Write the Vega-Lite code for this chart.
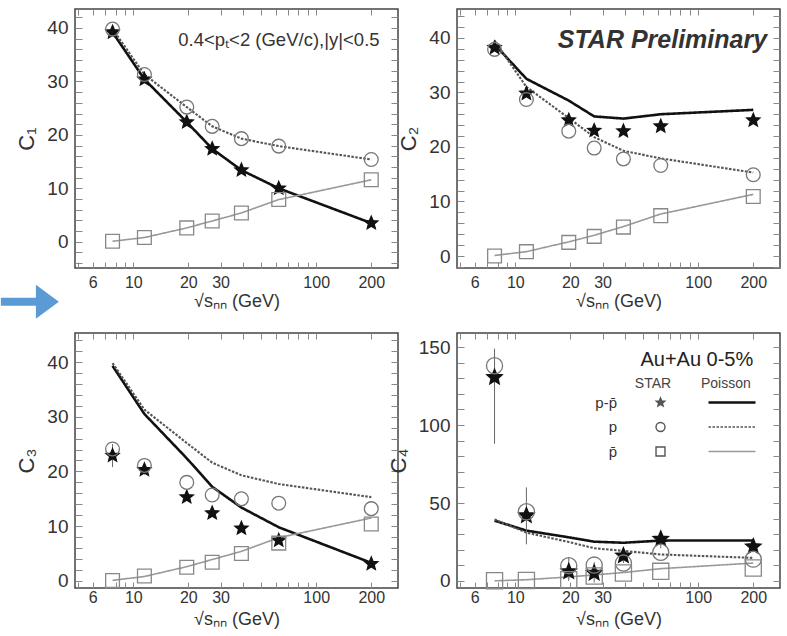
{
  "$schema": "https://vega.github.io/schema/vega-lite/v6.json",
  "padding": {"top": 6, "left": 0, "right": 0, "bottom": 0},
  "columns": 2,
  "spacing": {"row": 65, "column": 59},
  "bounds": "flush",
  "config": {
    "font": "Liberation Sans",
    "view": {"stroke": "#444", "strokeWidth": 1.5},
    "axis": {"grid": false, "domain": false, "tickColor": "#888", "tickWidth": 1, "labelFont": "Liberation Sans", "titleFont": "Liberation Sans", "labelColor": "#333", "titleColor": "#333", "titleFontWeight": "normal", "labelOverlap": false, "labelFlush": false},
    "legend": {"labelFont": "Liberation Sans", "titleFont": "Liberation Sans"}
  },
  "resolve": {"scale": {"shape": "independent", "fill": "independent", "stroke": "independent", "color": "independent", "strokeDash": "independent", "strokeWidth": "independent"}},
  "datasets": {
    "pts": [
      {"panel": "C1", "series": "p-p̄", "E": 7.7, "v": 39.2},
      {"panel": "C1", "series": "p-p̄", "E": 11.5, "v": 30.4},
      {"panel": "C1", "series": "p-p̄", "E": 19.6, "v": 22.4},
      {"panel": "C1", "series": "p-p̄", "E": 27, "v": 17.4},
      {"panel": "C1", "series": "p-p̄", "E": 39, "v": 13.4},
      {"panel": "C1", "series": "p-p̄", "E": 62.4, "v": 10.0},
      {"panel": "C1", "series": "p-p̄", "E": 200, "v": 3.5},
      {"panel": "C1", "series": "p", "E": 7.7, "v": 39.8},
      {"panel": "C1", "series": "p", "E": 11.5, "v": 31.3},
      {"panel": "C1", "series": "p", "E": 19.6, "v": 25.2},
      {"panel": "C1", "series": "p", "E": 27, "v": 21.6},
      {"panel": "C1", "series": "p", "E": 39, "v": 19.3},
      {"panel": "C1", "series": "p", "E": 62.4, "v": 17.9},
      {"panel": "C1", "series": "p", "E": 200, "v": 15.4},
      {"panel": "C1", "series": "p̄", "E": 7.7, "v": 0.1},
      {"panel": "C1", "series": "p̄", "E": 11.5, "v": 0.8},
      {"panel": "C1", "series": "p̄", "E": 19.6, "v": 2.6},
      {"panel": "C1", "series": "p̄", "E": 27, "v": 3.9},
      {"panel": "C1", "series": "p̄", "E": 39, "v": 5.4},
      {"panel": "C1", "series": "p̄", "E": 62.4, "v": 7.9},
      {"panel": "C1", "series": "p̄", "E": 200, "v": 11.6},

      {"panel": "C2", "series": "p-p̄", "E": 7.7, "v": 38.2},
      {"panel": "C2", "series": "p-p̄", "E": 11.5, "v": 29.8},
      {"panel": "C2", "series": "p-p̄", "E": 19.6, "v": 24.9},
      {"panel": "C2", "series": "p-p̄", "E": 27, "v": 23.0},
      {"panel": "C2", "series": "p-p̄", "E": 39, "v": 22.9},
      {"panel": "C2", "series": "p-p̄", "E": 62.4, "v": 23.8},
      {"panel": "C2", "series": "p-p̄", "E": 200, "v": 24.9},
      {"panel": "C2", "series": "p", "E": 7.7, "v": 37.9},
      {"panel": "C2", "series": "p", "E": 11.5, "v": 28.7},
      {"panel": "C2", "series": "p", "E": 19.6, "v": 22.9},
      {"panel": "C2", "series": "p", "E": 27, "v": 19.8},
      {"panel": "C2", "series": "p", "E": 39, "v": 17.8},
      {"panel": "C2", "series": "p", "E": 62.4, "v": 16.6},
      {"panel": "C2", "series": "p", "E": 200, "v": 14.9},
      {"panel": "C2", "series": "p̄", "E": 7.7, "v": 0.0},
      {"panel": "C2", "series": "p̄", "E": 11.5, "v": 0.8},
      {"panel": "C2", "series": "p̄", "E": 19.6, "v": 2.5},
      {"panel": "C2", "series": "p̄", "E": 27, "v": 3.6},
      {"panel": "C2", "series": "p̄", "E": 39, "v": 5.3},
      {"panel": "C2", "series": "p̄", "E": 62.4, "v": 7.4},
      {"panel": "C2", "series": "p̄", "E": 200, "v": 10.9},

      {"panel": "C3", "series": "p-p̄", "E": 7.7, "v": 22.9, "lo": 20.8, "hi": 25.0},
      {"panel": "C3", "series": "p-p̄", "E": 11.5, "v": 20.3, "lo": 19.4, "hi": 21.2},
      {"panel": "C3", "series": "p-p̄", "E": 19.6, "v": 15.3},
      {"panel": "C3", "series": "p-p̄", "E": 27, "v": 12.4},
      {"panel": "C3", "series": "p-p̄", "E": 39, "v": 9.6},
      {"panel": "C3", "series": "p-p̄", "E": 62.4, "v": 7.4},
      {"panel": "C3", "series": "p-p̄", "E": 200, "v": 3.1},
      {"panel": "C3", "series": "p", "E": 7.7, "v": 24.1},
      {"panel": "C3", "series": "p", "E": 11.5, "v": 21.1},
      {"panel": "C3", "series": "p", "E": 19.6, "v": 18.0},
      {"panel": "C3", "series": "p", "E": 27, "v": 15.7},
      {"panel": "C3", "series": "p", "E": 39, "v": 15.0},
      {"panel": "C3", "series": "p", "E": 62.4, "v": 14.2},
      {"panel": "C3", "series": "p", "E": 200, "v": 13.2},
      {"panel": "C3", "series": "p̄", "E": 7.7, "v": 0.05},
      {"panel": "C3", "series": "p̄", "E": 11.5, "v": 0.9},
      {"panel": "C3", "series": "p̄", "E": 19.6, "v": 2.5},
      {"panel": "C3", "series": "p̄", "E": 27, "v": 3.4},
      {"panel": "C3", "series": "p̄", "E": 39, "v": 5.0},
      {"panel": "C3", "series": "p̄", "E": 62.4, "v": 6.9},
      {"panel": "C3", "series": "p̄", "E": 200, "v": 10.4},

      {"panel": "C4", "series": "p-p̄", "E": 7.7, "v": 130.6, "lo": 88, "hi": 149},
      {"panel": "C4", "series": "p-p̄", "E": 11.5, "v": 41.9, "lo": 23.5, "hi": 60},
      {"panel": "C4", "series": "p-p̄", "E": 19.6, "v": 6.0, "lo": 0, "hi": 15},
      {"panel": "C4", "series": "p-p̄", "E": 27, "v": 5.1, "lo": -1, "hi": 12},
      {"panel": "C4", "series": "p-p̄", "E": 39, "v": 16.2, "lo": 11.5, "hi": 21},
      {"panel": "C4", "series": "p-p̄", "E": 62.4, "v": 26.9, "lo": 21, "hi": 32},
      {"panel": "C4", "series": "p-p̄", "E": 200, "v": 22.0, "lo": 18.5, "hi": 25.5},
      {"panel": "C4", "series": "p", "E": 7.7, "v": 138},
      {"panel": "C4", "series": "p", "E": 11.5, "v": 44.4},
      {"panel": "C4", "series": "p", "E": 19.6, "v": 9.8},
      {"panel": "C4", "series": "p", "E": 27, "v": 10.2},
      {"panel": "C4", "series": "p", "E": 39, "v": 11.5},
      {"panel": "C4", "series": "p", "E": 62.4, "v": 18.4},
      {"panel": "C4", "series": "p", "E": 200, "v": 14.0},
      {"panel": "C4", "series": "p̄", "E": 7.7, "v": 0.2},
      {"panel": "C4", "series": "p̄", "E": 11.5, "v": 0.3},
      {"panel": "C4", "series": "p̄", "E": 19.6, "v": 0.8},
      {"panel": "C4", "series": "p̄", "E": 27, "v": 3.2},
      {"panel": "C4", "series": "p̄", "E": 39, "v": 5.1},
      {"panel": "C4", "series": "p̄", "E": 62.4, "v": 6.2},
      {"panel": "C4", "series": "p̄", "E": 200, "v": 8.3}
    ],
    "poi": [
      {"panel": "C1", "model": "p-p̄", "E": 7.7, "v": 39.2},
      {"panel": "C1", "model": "p-p̄", "E": 11.5, "v": 30.4},
      {"panel": "C1", "model": "p-p̄", "E": 19.6, "v": 22.4},
      {"panel": "C1", "model": "p-p̄", "E": 27, "v": 17.4},
      {"panel": "C1", "model": "p-p̄", "E": 39, "v": 13.4},
      {"panel": "C1", "model": "p-p̄", "E": 62.4, "v": 10.0},
      {"panel": "C1", "model": "p-p̄", "E": 200, "v": 3.5},
      {"panel": "C1", "model": "p", "E": 7.7, "v": 39.8},
      {"panel": "C1", "model": "p", "E": 11.5, "v": 31.3},
      {"panel": "C1", "model": "p", "E": 19.6, "v": 25.2},
      {"panel": "C1", "model": "p", "E": 27, "v": 21.6},
      {"panel": "C1", "model": "p", "E": 39, "v": 19.3},
      {"panel": "C1", "model": "p", "E": 62.4, "v": 17.9},
      {"panel": "C1", "model": "p", "E": 200, "v": 15.4},
      {"panel": "C1", "model": "p̄", "E": 7.7, "v": 0.1},
      {"panel": "C1", "model": "p̄", "E": 11.5, "v": 0.8},
      {"panel": "C1", "model": "p̄", "E": 19.6, "v": 2.6},
      {"panel": "C1", "model": "p̄", "E": 27, "v": 3.9},
      {"panel": "C1", "model": "p̄", "E": 39, "v": 5.4},
      {"panel": "C1", "model": "p̄", "E": 62.4, "v": 7.9},
      {"panel": "C1", "model": "p̄", "E": 200, "v": 11.6},

      {"panel": "C2", "model": "p-p̄", "E": 7.7, "v": 38.8},
      {"panel": "C2", "model": "p-p̄", "E": 11.5, "v": 32.5},
      {"panel": "C2", "model": "p-p̄", "E": 19.6, "v": 28.5},
      {"panel": "C2", "model": "p-p̄", "E": 27, "v": 25.6},
      {"panel": "C2", "model": "p-p̄", "E": 39, "v": 25.2},
      {"panel": "C2", "model": "p-p̄", "E": 62.4, "v": 26.0},
      {"panel": "C2", "model": "p-p̄", "E": 200, "v": 26.8},
      {"panel": "C2", "model": "p", "E": 7.7, "v": 39.5},
      {"panel": "C2", "model": "p", "E": 11.5, "v": 31.0},
      {"panel": "C2", "model": "p", "E": 19.6, "v": 25.3},
      {"panel": "C2", "model": "p", "E": 27, "v": 21.8},
      {"panel": "C2", "model": "p", "E": 39, "v": 19.3},
      {"panel": "C2", "model": "p", "E": 62.4, "v": 17.9},
      {"panel": "C2", "model": "p", "E": 200, "v": 15.3},
      {"panel": "C2", "model": "p̄", "E": 7.7, "v": 0.1},
      {"panel": "C2", "model": "p̄", "E": 11.5, "v": 0.8},
      {"panel": "C2", "model": "p̄", "E": 19.6, "v": 2.6},
      {"panel": "C2", "model": "p̄", "E": 27, "v": 3.8},
      {"panel": "C2", "model": "p̄", "E": 39, "v": 5.4},
      {"panel": "C2", "model": "p̄", "E": 62.4, "v": 7.7},
      {"panel": "C2", "model": "p̄", "E": 200, "v": 11.3},

      {"panel": "C3", "model": "p-p̄", "E": 7.7, "v": 39.3},
      {"panel": "C3", "model": "p-p̄", "E": 11.5, "v": 30.5},
      {"panel": "C3", "model": "p-p̄", "E": 19.6, "v": 22.4},
      {"panel": "C3", "model": "p-p̄", "E": 27, "v": 17.2},
      {"panel": "C3", "model": "p-p̄", "E": 39, "v": 13.4},
      {"panel": "C3", "model": "p-p̄", "E": 62.4, "v": 9.8},
      {"panel": "C3", "model": "p-p̄", "E": 200, "v": 3.3},
      {"panel": "C3", "model": "p", "E": 7.7, "v": 39.8},
      {"panel": "C3", "model": "p", "E": 11.5, "v": 31.3},
      {"panel": "C3", "model": "p", "E": 19.6, "v": 25.2},
      {"panel": "C3", "model": "p", "E": 27, "v": 21.6},
      {"panel": "C3", "model": "p", "E": 39, "v": 19.3},
      {"panel": "C3", "model": "p", "E": 62.4, "v": 17.7},
      {"panel": "C3", "model": "p", "E": 200, "v": 15.3},
      {"panel": "C3", "model": "p̄", "E": 7.7, "v": 0.1},
      {"panel": "C3", "model": "p̄", "E": 11.5, "v": 0.8},
      {"panel": "C3", "model": "p̄", "E": 19.6, "v": 2.6},
      {"panel": "C3", "model": "p̄", "E": 27, "v": 3.9},
      {"panel": "C3", "model": "p̄", "E": 39, "v": 5.4},
      {"panel": "C3", "model": "p̄", "E": 62.4, "v": 7.9},
      {"panel": "C3", "model": "p̄", "E": 200, "v": 11.5},

      {"panel": "C4", "model": "p-p̄", "E": 7.7, "v": 38.7},
      {"panel": "C4", "model": "p-p̄", "E": 11.5, "v": 32.3},
      {"panel": "C4", "model": "p-p̄", "E": 19.6, "v": 28.0},
      {"panel": "C4", "model": "p-p̄", "E": 27, "v": 25.2},
      {"panel": "C4", "model": "p-p̄", "E": 39, "v": 24.5},
      {"panel": "C4", "model": "p-p̄", "E": 62.4, "v": 25.9},
      {"panel": "C4", "model": "p-p̄", "E": 200, "v": 26.0},
      {"panel": "C4", "model": "p", "E": 7.7, "v": 39.5},
      {"panel": "C4", "model": "p", "E": 11.5, "v": 31.0},
      {"panel": "C4", "model": "p", "E": 19.6, "v": 25.0},
      {"panel": "C4", "model": "p", "E": 27, "v": 21.0},
      {"panel": "C4", "model": "p", "E": 39, "v": 19.3},
      {"panel": "C4", "model": "p", "E": 62.4, "v": 17.0},
      {"panel": "C4", "model": "p", "E": 200, "v": 14.8},
      {"panel": "C4", "model": "p̄", "E": 7.7, "v": 0.1},
      {"panel": "C4", "model": "p̄", "E": 11.5, "v": 0.8},
      {"panel": "C4", "model": "p̄", "E": 19.6, "v": 2.6},
      {"panel": "C4", "model": "p̄", "E": 27, "v": 3.9},
      {"panel": "C4", "model": "p̄", "E": 39, "v": 5.4},
      {"panel": "C4", "model": "p̄", "E": 62.4, "v": 7.9},
      {"panel": "C4", "model": "p̄", "E": 200, "v": 11.5}
    ]
  },
  "concat": [
    {
      "width": 323, "height": 259,
      "resolve": {"axis": {"x": "independent", "y": "independent"}},
      "layer": [
        {
          "data": {"name": "poi"},
          "transform": [{"filter": "datum.panel === 'C1'"}],
          "mark": {"type": "line"},
          "encoding": {
            "x": {"field": "E", "type": "quantitative", "scale": {"type": "log", "domain": [4.8, 280], "nice": false},
                  "axis": {"orient": "bottom", "values": [5,6,7,8,9,10,20,30,40,50,60,70,80,90,100,200], "labelExpr": "indexof([6,10,20,30,100,200], datum.value) >= 0 ? datum.label : ''", "format": "d", "title": "√sₙₙ (GeV)", "tickSize": -6, "labelPadding": 12, "titlePadding": 2, "labelFontSize": 16, "titleFontSize": 18, "encode": {"ticks": {"update": {"y2": {"signal": "datum.value === 10 || datum.value === 100 ? -10 : -5"}}}}}},
            "y": {"field": "v", "type": "quantitative", "scale": {"domain": [-4.9, 43.55], "nice": false, "zero": false},
                  "axis": {"orient": "left", "values": [-4,-2,0,2,4,6,8,10,12,14,16,18,20,22,24,26,28,30,32,34,36,38,40,42], "labelExpr": "datum.value % 10 === 0 ? datum.label : ''", "title": "C₁", "tickSize": -7, "labelPadding": 14, "titlePadding": 8, "labelFontSize": 19, "titleFontSize": 22, "encode": {"ticks": {"update": {"x2": {"signal": "datum.value % 10 === 0 ? 10 : 5"}}}}}},
            "color": {"field": "model", "type": "nominal", "sort": ["p-p̄","p","p̄"], "scale": {"range": ["#111","#555","#999"]}, "legend": null},
            "strokeDash": {"field": "model", "type": "nominal", "sort": ["p-p̄","p","p̄"], "scale": {"range": [[1,0],[2.5,1.5],[1,0]]}, "legend": null},
            "strokeWidth": {"field": "model", "type": "nominal", "sort": ["p-p̄","p","p̄"], "scale": {"range": [2.6,1.6,1.4]}, "legend": null}
          }
        },
        {
          "data": {"name": "pts"},
          "transform": [{"filter": "datum.panel === 'C1'"}],
          "mark": {"type": "point", "opacity": 1, "strokeWidth": 1.3, "size": 190},
          "encoding": {
            "x": {"field": "E", "type": "quantitative", "axis": {"orient": "top", "values": [5,6,7,8,9,10,20,30,40,50,60,70,80,90,100,200], "labels": false, "title": null, "tickSize": -6, "encode": {"ticks": {"update": {"y2": {"signal": "datum.value === 10 || datum.value === 100 ? 10 : 5"}}}}}},
            "y": {"field": "v", "type": "quantitative", "axis": {"orient": "right", "values": [-4,-2,0,2,4,6,8,10,12,14,16,18,20,22,24,26,28,30,32,34,36,38,40,42], "labels": false, "title": null, "tickSize": -7, "encode": {"ticks": {"update": {"x2": {"signal": "datum.value % 10 === 0 ? -10 : -5"}}}}}},
            "shape": {"field": "series", "type": "nominal", "sort": ["p-p̄","p","p̄"], "scale": {"range": ["M0,-1L0.265,-0.364L0.951,-0.309L0.428,0.139L0.588,0.809L0,0.45L-0.588,0.809L-0.428,0.139L-0.951,-0.309L-0.265,-0.364Z","circle","square"]}, "legend": null},
            "fill": {"field": "series", "type": "nominal", "sort": ["p-p̄","p","p̄"], "scale": {"range": ["#111","transparent","transparent"]}, "legend": null},
            "stroke": {"field": "series", "type": "nominal", "sort": ["p-p̄","p","p̄"], "scale": {"range": ["#111","#777","#888"]}, "legend": null}
          }
        },
        {
          "data": {"values": [{}]},
          "mark": {"type": "text", "align": "right", "baseline": "middle", "fontSize": 18.5, "color": "#333", "font": "Liberation Sans"},
          "encoding": {
            "x": {"datum": 222, "type": "quantitative", "axis": null},
            "y": {"datum": 37.8, "type": "quantitative", "axis": null},
            "text": {"value": "0.4<pₜ<2 (GeV/c),|y|<0.5"}
          }
        }
      ]
    },
    {
      "width": 323, "height": 259,
      "resolve": {"axis": {"x": "independent", "y": "independent"}},
      "layer": [
        {
          "data": {"name": "poi"},
          "transform": [{"filter": "datum.panel === 'C2'"}],
          "mark": {"type": "line"},
          "encoding": {
            "x": {"field": "E", "type": "quantitative", "scale": {"type": "log", "domain": [4.8, 280], "nice": false},
                  "axis": {"orient": "bottom", "values": [5,6,7,8,9,10,20,30,40,50,60,70,80,90,100,200], "labelExpr": "indexof([6,10,20,30,100,200], datum.value) >= 0 ? datum.label : ''", "format": "d", "title": "√sₙₙ (GeV)", "tickSize": -6, "labelPadding": 12, "titlePadding": 2, "labelFontSize": 16, "titleFontSize": 18, "encode": {"ticks": {"update": {"y2": {"signal": "datum.value === 10 || datum.value === 100 ? -10 : -5"}}}}}},
            "y": {"field": "v", "type": "quantitative", "scale": {"domain": [-2.2, 45.3], "nice": false, "zero": false},
                  "axis": {"orient": "left", "values": [-2,0,2,4,6,8,10,12,14,16,18,20,22,24,26,28,30,32,34,36,38,40,42,44], "labelExpr": "datum.value % 10 === 0 ? datum.label : ''", "title": "C₂", "tickSize": -7, "labelPadding": 14, "titlePadding": 8, "labelFontSize": 19, "titleFontSize": 22, "encode": {"ticks": {"update": {"x2": {"signal": "datum.value % 10 === 0 ? 10 : 5"}}}}}},
            "color": {"field": "model", "type": "nominal", "sort": ["p-p̄","p","p̄"], "scale": {"range": ["#111","#555","#999"]}, "legend": null},
            "strokeDash": {"field": "model", "type": "nominal", "sort": ["p-p̄","p","p̄"], "scale": {"range": [[1,0],[2.5,1.5],[1,0]]}, "legend": null},
            "strokeWidth": {"field": "model", "type": "nominal", "sort": ["p-p̄","p","p̄"], "scale": {"range": [2.6,1.6,1.4]}, "legend": null}
          }
        },
        {
          "data": {"name": "pts"},
          "transform": [{"filter": "datum.panel === 'C2'"}],
          "mark": {"type": "point", "opacity": 1, "strokeWidth": 1.3, "size": 190},
          "encoding": {
            "x": {"field": "E", "type": "quantitative", "axis": {"orient": "top", "values": [5,6,7,8,9,10,20,30,40,50,60,70,80,90,100,200], "labels": false, "title": null, "tickSize": -6, "encode": {"ticks": {"update": {"y2": {"signal": "datum.value === 10 || datum.value === 100 ? 10 : 5"}}}}}},
            "y": {"field": "v", "type": "quantitative", "axis": {"orient": "right", "values": [-2,0,2,4,6,8,10,12,14,16,18,20,22,24,26,28,30,32,34,36,38,40,42,44], "labels": false, "title": null, "tickSize": -7, "encode": {"ticks": {"update": {"x2": {"signal": "datum.value % 10 === 0 ? -10 : -5"}}}}}},
            "shape": {"field": "series", "type": "nominal", "sort": ["p-p̄","p","p̄"], "scale": {"range": ["M0,-1L0.265,-0.364L0.951,-0.309L0.428,0.139L0.588,0.809L0,0.45L-0.588,0.809L-0.428,0.139L-0.951,-0.309L-0.265,-0.364Z","circle","square"]}, "legend": null},
            "fill": {"field": "series", "type": "nominal", "sort": ["p-p̄","p","p̄"], "scale": {"range": ["#111","transparent","transparent"]}, "legend": null},
            "stroke": {"field": "series", "type": "nominal", "sort": ["p-p̄","p","p̄"], "scale": {"range": ["#111","#777","#888"]}, "legend": null}
          }
        },
        {
          "data": {"values": [{}]},
          "mark": {"type": "text", "align": "right", "baseline": "middle", "fontSize": 25, "fontStyle": "italic", "fontWeight": "bold", "color": "#333", "font": "Liberation Sans"},
          "encoding": {
            "x": {"datum": 238, "type": "quantitative", "axis": null},
            "y": {"datum": 39.6, "type": "quantitative", "axis": null},
            "text": {"value": "STAR Preliminary"}
          }
        }
      ]
    },
    {
      "width": 323, "height": 255,
      "resolve": {"axis": {"x": "independent", "y": "independent"}},
      "layer": [
        {
          "data": {"name": "poi"},
          "transform": [{"filter": "datum.panel === 'C3'"}],
          "mark": {"type": "line"},
          "encoding": {
            "x": {"field": "E", "type": "quantitative", "scale": {"type": "log", "domain": [4.8, 280], "nice": false},
                  "axis": {"orient": "bottom", "values": [5,6,7,8,9,10,20,30,40,50,60,70,80,90,100,200], "labelExpr": "indexof([6,10,20,30,100,200], datum.value) >= 0 ? datum.label : ''", "format": "d", "title": "√sₙₙ (GeV)", "tickSize": -6, "labelPadding": 7, "titlePadding": 5, "labelFontSize": 16, "titleFontSize": 18, "encode": {"ticks": {"update": {"y2": {"signal": "datum.value === 10 || datum.value === 100 ? -10 : -5"}}}}}},
            "y": {"field": "v", "type": "quantitative", "scale": {"domain": [-1.3, 45.3], "nice": false, "zero": false},
                  "axis": {"orient": "left", "values": [0,2,4,6,8,10,12,14,16,18,20,22,24,26,28,30,32,34,36,38,40,42,44], "labelExpr": "datum.value % 10 === 0 ? datum.label : ''", "title": "C₃", "tickSize": -7, "labelPadding": 14, "titlePadding": 8, "labelFontSize": 19, "titleFontSize": 22, "encode": {"ticks": {"update": {"x2": {"signal": "datum.value % 10 === 0 ? 10 : 5"}}}}}},
            "color": {"field": "model", "type": "nominal", "sort": ["p-p̄","p","p̄"], "scale": {"range": ["#111","#555","#999"]}, "legend": null},
            "strokeDash": {"field": "model", "type": "nominal", "sort": ["p-p̄","p","p̄"], "scale": {"range": [[1,0],[2.5,1.5],[1,0]]}, "legend": null},
            "strokeWidth": {"field": "model", "type": "nominal", "sort": ["p-p̄","p","p̄"], "scale": {"range": [2.6,1.6,1.4]}, "legend": null}
          }
        },
        {
          "data": {"name": "pts"},
          "transform": [{"filter": "datum.panel === 'C3' && isValid(datum.lo)"}],
          "mark": {"type": "rule", "color": "#666", "strokeWidth": 1},
          "encoding": {
            "x": {"field": "E", "type": "quantitative", "axis": null},
            "y": {"field": "lo", "type": "quantitative", "axis": null},
            "y2": {"field": "hi"}
          }
        },
        {
          "data": {"name": "pts"},
          "transform": [{"filter": "datum.panel === 'C3'"}],
          "mark": {"type": "point", "opacity": 1, "strokeWidth": 1.3, "size": 190},
          "encoding": {
            "x": {"field": "E", "type": "quantitative", "axis": {"orient": "top", "values": [5,6,7,8,9,10,20,30,40,50,60,70,80,90,100,200], "labels": false, "title": null, "tickSize": -6, "encode": {"ticks": {"update": {"y2": {"signal": "datum.value === 10 || datum.value === 100 ? 10 : 5"}}}}}},
            "y": {"field": "v", "type": "quantitative", "axis": {"orient": "right", "values": [0,2,4,6,8,10,12,14,16,18,20,22,24,26,28,30,32,34,36,38,40,42,44], "labels": false, "title": null, "tickSize": -7, "encode": {"ticks": {"update": {"x2": {"signal": "datum.value % 10 === 0 ? -10 : -5"}}}}}},
            "shape": {"field": "series", "type": "nominal", "sort": ["p-p̄","p","p̄"], "scale": {"range": ["M0,-1L0.265,-0.364L0.951,-0.309L0.428,0.139L0.588,0.809L0,0.45L-0.588,0.809L-0.428,0.139L-0.951,-0.309L-0.265,-0.364Z","circle","square"]}, "legend": null},
            "fill": {"field": "series", "type": "nominal", "sort": ["p-p̄","p","p̄"], "scale": {"range": ["#111","transparent","transparent"]}, "legend": null},
            "stroke": {"field": "series", "type": "nominal", "sort": ["p-p̄","p","p̄"], "scale": {"range": ["#111","#777","#888"]}, "legend": null}
          }
        },
        {
          "data": {"values": [{}]},
          "mark": {"type": "point", "shape": "M-1,-0.138L0.207,-0.138L0.207,-0.586L1,0L0.207,0.586L0.207,0.138L-1,0.138Z", "filled": true, "size": 3364, "color": "#5b9bd5", "opacity": 1, "strokeWidth": 0},
          "encoding": {
            "x": {"datum": 2.72, "type": "quantitative", "axis": null},
            "y": {"datum": 51.0, "type": "quantitative", "axis": null}
          }
        }
      ]
    },
    {
      "width": 323, "height": 255,
      "resolve": {"axis": {"x": "independent", "y": "independent"}},
      "layer": [
        {
          "data": {"name": "poi"},
          "transform": [{"filter": "datum.panel === 'C4'"}],
          "mark": {"type": "line"},
          "encoding": {
            "x": {"field": "E", "type": "quantitative", "scale": {"type": "log", "domain": [4.8, 280], "nice": false},
                  "axis": {"orient": "bottom", "values": [5,6,7,8,9,10,20,30,40,50,60,70,80,90,100,200], "labelExpr": "indexof([6,10,20,30,100,200], datum.value) >= 0 ? datum.label : ''", "format": "d", "title": "√sₙₙ (GeV)", "tickSize": -6, "labelPadding": 7, "titlePadding": 5, "labelFontSize": 16, "titleFontSize": 18, "encode": {"ticks": {"update": {"y2": {"signal": "datum.value === 10 || datum.value === 100 ? -10 : -5"}}}}}},
            "y": {"field": "v", "type": "quantitative", "scale": {"domain": [-4.5, 159], "nice": false, "zero": false},
                  "axis": {"orient": "left", "values": [0,10,20,30,40,50,60,70,80,90,100,110,120,130,140,150], "labelExpr": "datum.value % 50 === 0 ? datum.label : ''", "title": "C₄", "tickSize": -7, "labelPadding": 14, "titlePadding": 8, "labelFontSize": 19, "titleFontSize": 22, "encode": {"ticks": {"update": {"x2": {"signal": "datum.value % 50 === 0 ? 10 : 5"}}}}}},
            "color": {"field": "model", "type": "nominal", "sort": ["p-p̄","p","p̄"], "scale": {"range": ["#111","#555","#999"]},
                      "legend": {"title": "Poisson", "orient": "none", "legendX": 244, "legendY": 44, "labelExpr": "''", "symbolType": "M0,0H9.4", "symbolSize": 100, "titleFontSize": 14, "titleFontWeight": "normal", "titleColor": "#444", "labelFontSize": 15, "rowPadding": 8.5, "titlePadding": 4,
                                 "encode": {"symbols": {"update": {"fill": {"value": "transparent"}, "stroke": {"signal": "datum.value === 'p-p̄' ? '#222' : datum.value === 'p' ? '#666' : '#aaa'"}, "strokeDash": {"signal": "datum.value === 'p' ? [2.5,1.5] : [1,0]"}, "strokeWidth": {"signal": "datum.value === 'p-p̄' ? 2.4 : 1.6"}}}}}},
            "strokeDash": {"field": "model", "type": "nominal", "sort": ["p-p̄","p","p̄"], "scale": {"range": [[1,0],[2.5,1.5],[1,0]]}, "legend": null},
            "strokeWidth": {"field": "model", "type": "nominal", "sort": ["p-p̄","p","p̄"], "scale": {"range": [2.6,1.6,1.4]}, "legend": null}
          }
        },
        {
          "data": {"name": "pts"},
          "transform": [{"filter": "datum.panel === 'C4' && isValid(datum.lo)"}],
          "mark": {"type": "rule", "color": "#666", "strokeWidth": 1},
          "encoding": {
            "x": {"field": "E", "type": "quantitative", "axis": null},
            "y": {"field": "lo", "type": "quantitative", "axis": null},
            "y2": {"field": "hi"}
          }
        },
        {
          "data": {"name": "pts"},
          "transform": [{"filter": "datum.panel === 'C4'"}],
          "mark": {"type": "point", "opacity": 1, "strokeWidth": 1.3, "size": 260},
          "encoding": {
            "x": {"field": "E", "type": "quantitative", "axis": {"orient": "top", "values": [5,6,7,8,9,10,20,30,40,50,60,70,80,90,100,200], "labels": false, "title": null, "tickSize": -6, "encode": {"ticks": {"update": {"y2": {"signal": "datum.value === 10 || datum.value === 100 ? 10 : 5"}}}}}},
            "y": {"field": "v", "type": "quantitative", "axis": {"orient": "right", "values": [0,10,20,30,40,50,60,70,80,90,100,110,120,130,140,150], "labels": false, "title": null, "tickSize": -7, "encode": {"ticks": {"update": {"x2": {"signal": "datum.value % 50 === 0 ? -10 : -5"}}}}}},
            "shape": {"field": "series", "type": "nominal", "sort": ["p-p̄","p","p̄"], "scale": {"range": ["M0,-1L0.265,-0.364L0.951,-0.309L0.428,0.139L0.588,0.809L0,0.45L-0.588,0.809L-0.428,0.139L-0.951,-0.309L-0.265,-0.364ZM0,-0.66L0.175,-0.24L0.628,-0.204L0.282,0.092L0.388,0.534L0,0.297L-0.388,0.534L-0.282,0.092L-0.628,-0.204L-0.175,-0.24ZM0,-0.33L0.087,-0.12L0.314,-0.102L0.141,0.046L0.194,0.267L0,0.149L-0.194,0.267L-0.141,0.046L-0.314,-0.102L-0.087,-0.12ZM0,-0.08L0.08,0L0,0.08L-0.08,0Z","circle","square"]},
                      "legend": {"title": "STAR", "orient": "none", "legendX": 178, "legendY": 44, "titleFontSize": 14, "titleFontWeight": "normal", "titleColor": "#444", "titleAlign": "center", "labelFontSize": 15, "labelColor": "#333", "labelAlign": "right", "labelOffset": -51, "symbolSize": 80, "symbolFillColor": "transparent", "symbolStrokeColor": "#555", "symbolStrokeWidth": 1.4, "rowPadding": 8.5, "titlePadding": 4}},
            "fill": {"field": "series", "type": "nominal", "sort": ["p-p̄","p","p̄"], "scale": {"range": ["#111","transparent","transparent"]}, "legend": null},
            "stroke": {"field": "series", "type": "nominal", "sort": ["p-p̄","p","p̄"], "scale": {"range": ["#111","#777","#888"]}, "legend": null}
          }
        },
        {
          "data": {"values": [{}]},
          "mark": {"type": "text", "align": "right", "baseline": "middle", "fontSize": 20, "color": "#222", "font": "Liberation Sans"},
          "encoding": {
            "x": {"datum": 200, "type": "quantitative", "axis": null},
            "y": {"datum": 141.7, "type": "quantitative", "axis": null},
            "text": {"value": "Au+Au 0-5%"}
          }
        }
      ]
    }
  ]
}
